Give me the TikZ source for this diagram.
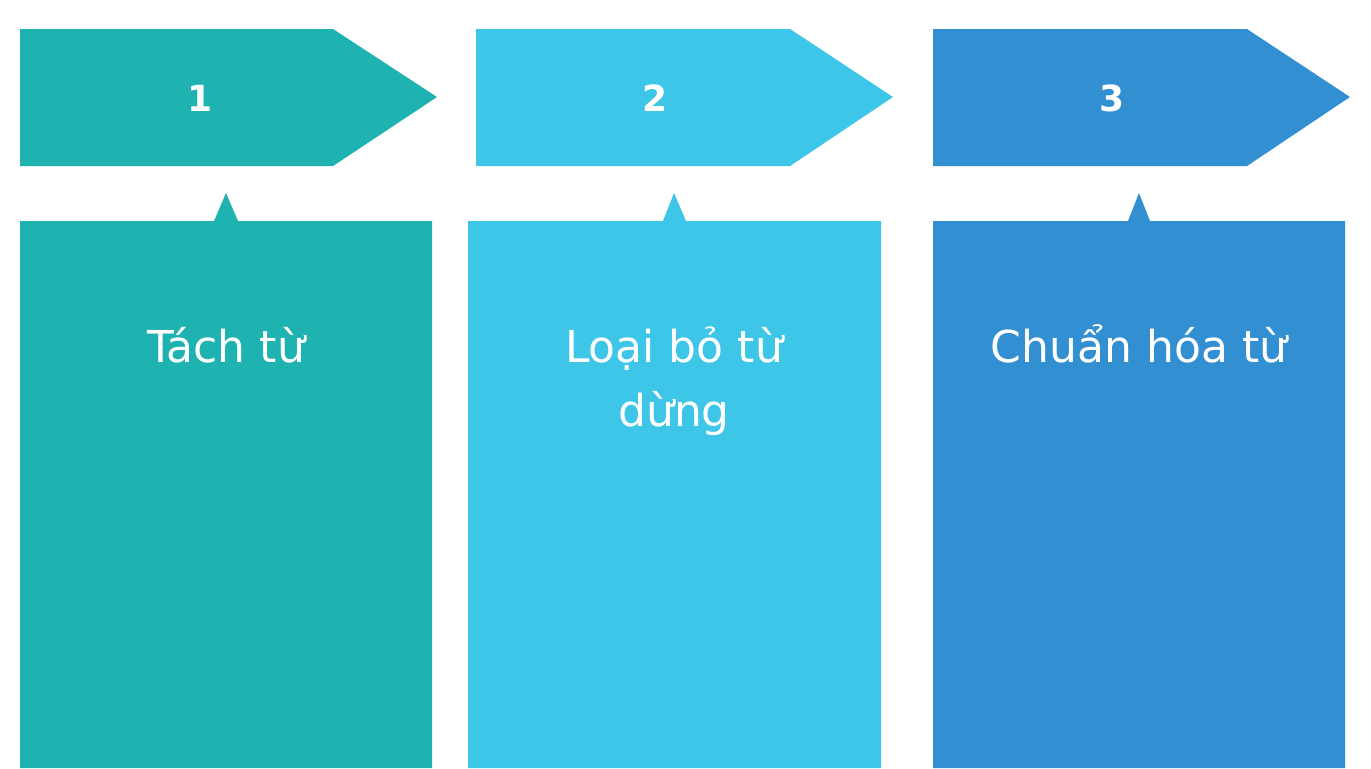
\documentclass[tikz,border=0pt]{standalone}
\usepackage{fontspec}
\setmainfont{DejaVu Sans}
\usepackage{tikz}
\usetikzlibrary{positioning}
\definecolor{stepteal}{RGB}{30, 178, 176}
\definecolor{stepsky}{RGB}{62, 198, 233}
\definecolor{stepblue}{RGB}{49, 143, 210}

\begin{document}
\begin{tikzpicture}[x=0.5pt, y=-0.5pt,
        numtext/.style={text=white, font=\fontsize{18}{21}\selectfont\bfseries},
        labeltext/.style={text=white, font=\fontsize{22}{32}\selectfont, align=center, anchor=base}
    ]
        \useasboundingbox[fill=white] (0,0) rectangle (1371,768);

        % Buoc 1
        \fill[stepteal] (20,29) -- (333,29) -- (437,97) -- (333,166) -- (20,166) -- cycle;
        \fill[stepteal] (20,221) -- (214,221) -- (226,193) -- (238,221) -- (432,221) -- (432,768) -- (20,768) -- cycle;
        \node[numtext] (num1) at (200,98) {1};
        \node[labeltext] (lbl1) at (226,362) {Tách từ};

        % Buoc 2
        \fill[stepsky] (476,29) -- (790,29) -- (893,97) -- (790,166) -- (476,166) -- cycle;
        \fill[stepsky] (468,221) -- (663,221) -- (674,193) -- (686,221) -- (881,221) -- (881,768) -- (468,768) -- cycle;
        \node[numtext] (num2) at (655,98) {2};
        \node[labeltext] (lbl2) at (674,426) {Loại bỏ từ\\dừng};

        % Buoc 3
        \fill[stepblue] (933,29) -- (1247,29) -- (1350,97) -- (1247,166) -- (933,166) -- cycle;
        \fill[stepblue] (933,221) -- (1128,221) -- (1139,193) -- (1150,221) -- (1345,221) -- (1345,768) -- (933,768) -- cycle;
        \node[numtext] (num3) at (1112,98) {3};
        \node[labeltext] (lbl3) at (1139,362) {Chuẩn hóa từ};
    \end{tikzpicture}
\end{document}
